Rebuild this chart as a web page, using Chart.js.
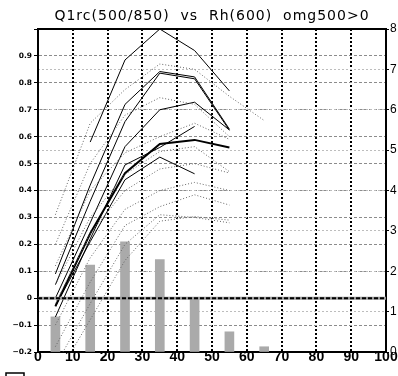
<!DOCTYPE html>
<html>
<head>
<meta charset="utf-8">
<script src="https://cdn.jsdelivr.net/npm/chart.js@4.4.1/dist/chart.umd.min.js"></script>
<style>
  html, body { margin: 0; padding: 0; background: #fff; }
</style>
</head>
<body>
<canvas id="chart" width="398" height="376"></canvas>
<script>
"use strict";

// Data
const titleText = 'Q1rc(500/850)  vs  Rh(600)  omg500>0';
const rhBins = [5, 15, 25, 35, 45, 55, 65];
const barCounts = [0.87, 2.15, 2.73, 2.29, 1.33, 0.50, 0.13];   // right axis

// thin solid members (left axis)
const solidA = [null, 0.58, 0.885, 1.0, 0.92, 0.77, null];
const solidB1 = [0.09, 0.42, 0.72, 0.842, 0.822, 0.628, null];
const solidB2 = [0.05, 0.36, 0.656, 0.836, 0.815, 0.624, null];
const solidC = [0.00, 0.28, 0.563, 0.70, 0.728, 0.625, null];
const solidE = [-0.07, 0.22, 0.495, 0.56, 0.638, null, null];
const solidF = [-0.03, 0.21, 0.44, 0.524, 0.462, null, null];
// thick solid line
const thickT = [-0.03, 0.24, 0.464, 0.573, 0.588, 0.56, null];

// dotted members
const dotted1 = [0.31, 0.65, 0.775, 0.87, 0.85, 0.75, 0.66];
const dotted2 = [0.20, 0.50, 0.68, 0.745, 0.72, 0.60, null];
const dotted3 = [0.12, 0.40, 0.54, 0.60, 0.65, 0.59, null];
const dotted4 = [0.05, 0.30, 0.46, 0.545, 0.563, 0.47, null];
const dotted5 = [-0.02, 0.24, 0.40, 0.48, 0.50, 0.465, null];
const dotted6 = [-0.10, 0.15, 0.33, 0.40, 0.43, 0.40, null];
const dotted7 = [-0.18, 0.06, 0.27, 0.34, 0.384, 0.346, null];
const dotted8 = [-0.25, -0.02, 0.20, 0.31, 0.30, 0.28, null];
const dotted9 = [-0.30, -0.08, 0.14, 0.286, 0.303, 0.29, null];

const solidSeries = [solidA, solidB1, solidB2, solidC, solidE, solidF];
const dottedSeries = [dotted1, dotted2, dotted3, dotted4, dotted5, dotted6, dotted7, dotted8, dotted9];

const toPoints = arr => rhBins.map((x, i) => ({ x: x, y: arr[i] })).filter(p => p.y !== null);

const lineDataset = (arr, opts) => Object.assign({
    type: 'line',
    data: toPoints(arr),
    xAxisID: 'x',
    yAxisID: 'y',
    borderColor: '#000',
    borderWidth: 1,
    pointRadius: 0,
    tension: 0,
    fill: false,
    order: 1
}, opts);

const datasets = [];
dottedSeries.forEach(arr => datasets.push(lineDataset(arr, { borderColor: '#666', borderDash: [1, 2] })));
solidSeries.forEach(arr => datasets.push(lineDataset(arr, {})));
datasets.push(lineDataset(thickT, { borderWidth: 2 }));
datasets.push({
    type: 'bar',
    data: rhBins.map((x, i) => ({ x: x, y: barCounts[i] })),
    xAxisID: 'x',
    yAxisID: 'y2',
    backgroundColor: '#aaaaaa',
    borderWidth: 0,
    barThickness: 9,
    order: 5
});

// frame, zero line, title and cut-off legend box
const framePlugin = {
    id: 'frame',
    afterDatasetsDraw(chart) {
        const { ctx, chartArea } = chart;
        const y0 = chart.scales.y.getPixelForValue(0);
        ctx.save();
        ctx.strokeStyle = '#999';
        ctx.lineWidth = 3;
        ctx.beginPath();
        ctx.moveTo(chartArea.left, y0);
        ctx.lineTo(chartArea.right, y0);
        ctx.stroke();
        ctx.strokeStyle = '#000';
        ctx.lineWidth = 2;
        ctx.setLineDash([4, 2]);
        ctx.beginPath();
        ctx.moveTo(chartArea.left, y0);
        ctx.lineTo(chartArea.right, y0);
        ctx.stroke();
        ctx.setLineDash([]);
        ctx.lineWidth = 2;
        ctx.beginPath();
        ctx.moveTo(chartArea.left - 1, chartArea.top);
        ctx.lineTo(chartArea.right + 1, chartArea.top);
        ctx.stroke();
        ctx.restore();
    },
    afterDraw(chart) {
        const { ctx } = chart;
        ctx.save();
        ctx.fillStyle = '#000';
        ctx.font = '14px "DejaVu Sans"';
        ctx.letterSpacing = '1px';
        ctx.textAlign = 'center';
        ctx.textBaseline = 'middle';
        ctx.fillText(titleText, 212, 16);
        ctx.letterSpacing = '0px';
        ctx.strokeStyle = '#000';
        ctx.lineWidth = 1.5;
        ctx.strokeRect(6, 373, 18, 12);
        ctx.restore();
    }
};

const fmtLeft = v => {
    const r = Math.round(v * 10) / 10;
    if (r > 0.95) return '';
    if (r === 0) return '0';
    return r.toFixed(1).replace('-', '\u2212');
};

new Chart(document.getElementById('chart').getContext('2d'), {
    type: 'line',
    data: { datasets: datasets },
    options: {
        responsive: false,
        animation: false,
        layout: { padding: { top: 29, left: 0, right: 0, bottom: 0 } },
        plugins: {
            legend: { display: false },
            tooltip: { enabled: false },
            title: { display: false }
        },
        scales: {
            x: {
                type: 'linear',
                position: 'bottom',
                min: 0,
                max: 100,
                offset: false,
                ticks: {
                    stepSize: 10,
                    autoSkip: false,
                    maxRotation: 0,
                    color: '#000',
                    padding: -2,
                    font: { family: 'Liberation Sans', weight: 'bold', size: 14, lineHeight: 1 }
                },
                grid: {
                    offset: false,
                    color: c => (c.tick && (c.tick.value === 0 || c.tick.value === 100)) ? 'rgba(0,0,0,0)' : '#000',
                    lineWidth: 2,
                    drawTicks: false
                },
                border: { display: true, color: '#000', width: 2, dash: [2, 2] },
                afterFit: s => { s.height = 24; }
            },
            y: {
                position: 'left',
                min: -0.2,
                max: 1.0,
                ticks: {
                    stepSize: 0.1,
                    color: '#000',
                    padding: 2,
                    callback: fmtLeft,
                    font: { family: 'DejaVu Sans', weight: 'bold', size: 7.5 }
                },
                grid: {
                    color: '#8c8c8c',
                    lineWidth: 1,
                    tickLength: 4,
                    tickColor: '#000',
                    tickWidth: 1
                },
                border: { display: true, color: '#000', width: 2, dash: [3, 2] },
                afterFit: s => { s.width = 38; }
            },
            y2: {
                position: 'right',
                min: 0,
                max: 8,
                ticks: {
                    stepSize: 1,
                    color: '#000',
                    padding: 1,
                    font: { family: 'Liberation Sans', size: 12 }
                },
                grid: {
                    color: '#bdbdbd',
                    lineWidth: 1,
                    tickLength: 3,
                    tickColor: '#000',
                    tickWidth: 1
                },
                border: { display: true, color: '#000', width: 2, dash: [2, 2] },
                afterFit: s => { s.width = 12; }
            }
        }
    },
    plugins: [framePlugin]
});
</script>
</body>
</html>
